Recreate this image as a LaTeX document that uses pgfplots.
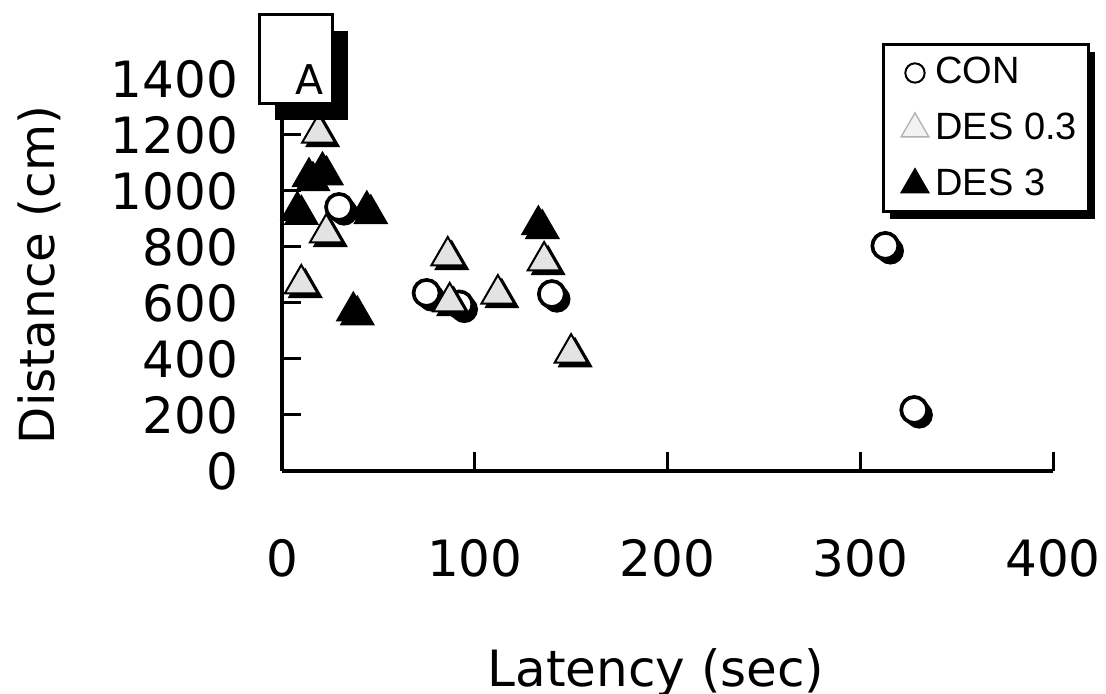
\documentclass[border=0pt]{standalone}
\usepackage{pgfplots}
\pgfplotsset{compat=1.18}
\usepackage{pgfplotstable}
\usepackage{fontspec}
\setmainfont{DejaVu Sans}
\newfontfamily\legfont{Liberation Sans}

% Latency (sec) vs distance (cm)
\pgfplotstableread{
x y
29.6 943
75 636
92 595
140 632
313 804
328 218
}\con

\pgfplotstableread{
x y
14 1050
21 1071
8 930
44 932
37 571
133 879
}\desthree

\pgfplotstableread{
x y
19 1207
23 850
10 668
86 768
87 604
112 632
136 750
150 421
}\deslow

\begin{document}
\begin{tikzpicture}
\useasboundingbox (-84.6pt,-66.9pt) rectangle (247.2pt,141.3pt);
% legend frame with its shadow
\fill[black] (182.5pt,75.5pt) rectangle (244pt,125.6pt);
\filldraw[fill=white, draw=black, line width=0.9pt] (180.3pt,77.7pt) rectangle (241.8pt,127.8pt);
\begin{axis}[
  scale only axis, width=231.3pt, height=117.6pt,
  xmin=0, xmax=400, ymin=0, ymax=1400,
  axis x line*=bottom, axis y line*=left,
  axis line style={line width=1.2pt,-},
  xtick={0,100,...,400}, ytick={0,200,...,1400},
  tick align=inside, major tick length=5.6pt,
  tick style={line width=0.9pt,black},
  font=\fontsize{15}{18}\selectfont,
  /pgf/number format/assume math mode=true,
  /pgf/number format/1000 sep={},
  xticklabel style={yshift=-17pt},
  yticklabel style={xshift=-9.7pt},
  clip=false,
  xlabel={Latency (sec)}, ylabel={Distance (cm)},
  xlabel style={at={(axis description cs:0.485,-0.551)}, anchor=base},
  ylabel style={at={(axis description cs:-0.315,0.5)}, anchor=center,
    font=\fontsize{14.5}{17}\selectfont},
  legend style={at={(axis description cs:1.045,1.087)}, anchor=north east,
    draw=none, fill=none,
    font=\legfont\fontsize{11.4}{13}\selectfont,
    inner xsep=1pt, inner ysep=1.5pt, row sep=3.3pt},
  legend cell align=left,
  legend image code/.code={\path[draw=none, fill=none] (-5.5pt,-3pt) rectangle (4pt,3pt);
    \draw[only marks,#1] plot coordinates {(0pt,0pt)};},
]
% CON
\addplot[forget plot, only marks, mark=*, mark size=3.9pt,
  mark options={fill=black, draw=black, xshift=1.5pt, yshift=-1.5pt}] table {\con};
\addplot[forget plot, only marks, mark=*, mark size=3.9pt,
  mark options={fill=white, draw=black, line width=1.1pt}] table {\con};
% DES 3
\addplot[forget plot, only marks, mark=triangle*, mark size=5.7pt,
  mark options={fill=black, draw=black, xshift=1.2pt, yshift=-1.2pt}] table {\desthree};
\addplot[forget plot, only marks, mark=triangle*, mark size=5.7pt,
  mark options={fill=black, draw=black}] table {\desthree};
% DES 0.3
\addplot[forget plot, only marks, mark=triangle*, mark size=5.7pt,
  mark options={fill=black, draw=black, xshift=1.2pt, yshift=-1.2pt}] table {\deslow};
\addplot[forget plot, only marks, mark=triangle*, mark size=5.7pt,
  mark options={fill=gray!22, draw=black, line width=0.6pt}] table {\deslow};

\addlegendimage{mark=*, mark size=2.9pt, mark options={fill=white, draw=black, line width=0.6pt}}
\addlegendentry{CON}
\addlegendimage{mark=triangle*, mark size=4.8pt, mark options={fill=gray!10, draw=gray!60, line width=0.4pt}}
\addlegendentry{DES 0.3}
\addlegendimage{mark=triangle*, mark size=4.8pt, mark options={fill=black, draw=black}}
\addlegendentry{DES 3}
\end{axis}
\fill[black] (-2.1pt,105.3pt) rectangle (19.8pt,132pt);
\filldraw[fill=white, draw=black, line width=0.9pt] (-6.9pt,110.1pt) rectangle (15pt,136.8pt);
\node[font=\fontsize{12.3}{14}\selectfont] at (8.4pt,117.3pt) {A};
\end{tikzpicture}
\end{document}
